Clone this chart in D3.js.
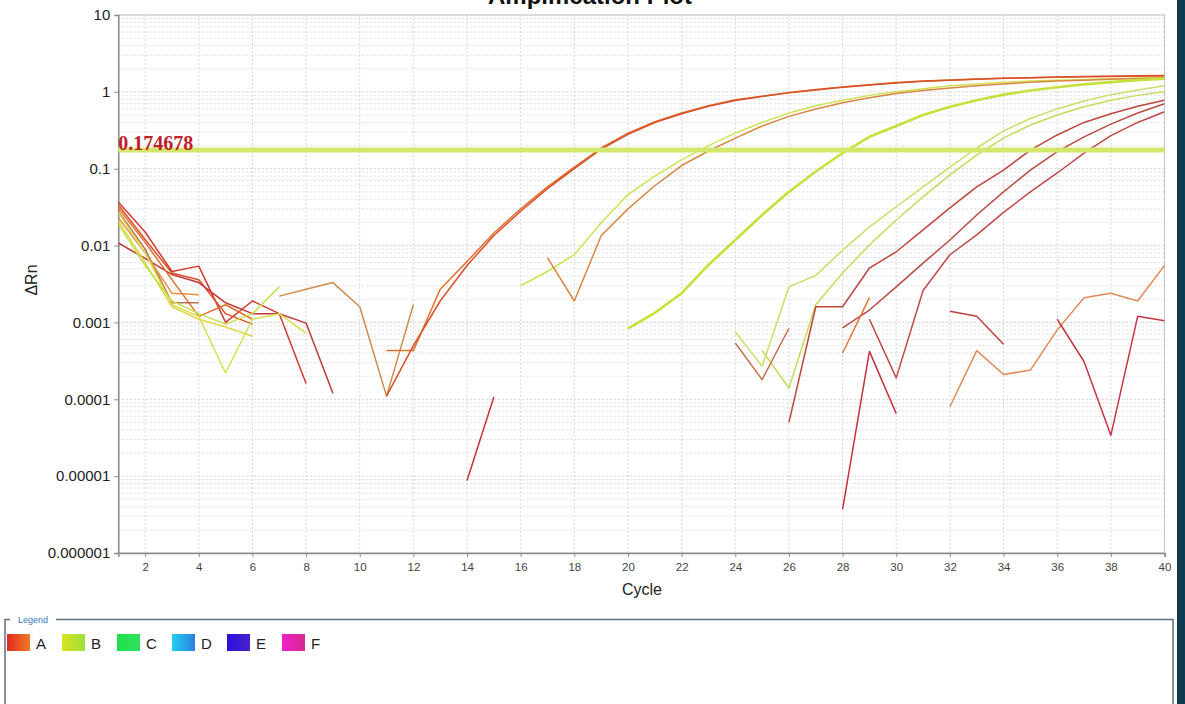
<!DOCTYPE html>
<html><head><meta charset="utf-8">
<script src="https://cdn.jsdelivr.net/npm/d3@7"></script>
<style>
html,body{margin:0;padding:0;background:#fff;overflow:hidden;}
svg{display:block;font-family:"Liberation Sans",Arial,sans-serif;}
</style></head><body>
<svg id="chart" width="1185" height="704"></svg>
<script>
// ---------- data ----------
const xTickValues = d3.range(2, 41, 2);
const yTickValues = [1e-6, 1e-5, 1e-4, 1e-3, 1e-2, 1e-1, 1, 10];
const yTickLabels = ["0.000001", "0.00001", "0.0001", "0.001", "0.01", "0.1", "1", "10"];
const threshold = 0.174678;
const thresholdLabel = "0.174678";
const legendGroups = ["A", "B", "C", "D", "E", "F"];

// one entry per well trace: detector group, first cycle, ΔRn per cycle
const traceGroup = ["A","A","A","A","A","A","B","B","B","A",
                    "A","A","B","A","B","B","B","A","A","A",
                    "A","A","A","A","A","A","A"];
const traceStart = [1,1,1,1,1,1,1,1,1,7,
                    11,11,16,17,20,24,25,26,28,29,
                    14,24,28,28,32,32,36];
const traceValues = [
  [0.037,0.015,0.0046,0.0054,0.0010,0.0019,0.0013,0.00016],
  [0.034,0.012,0.0044,0.0036,0.0013,0.00095],
  [0.0108,0.0068,0.0042,0.0033,0.0018,0.0013,0.0013,0.00098,0.00012],
  [0.031,0.011,0.0036,0.0012,0.0017,0.0011],
  [0.028,0.009,0.0018,0.0018],
  [0.023,0.008,0.0024,0.0023],
  [0.027,0.008,0.0017,0.0012,0.00022,0.0011,0.0013,0.00072],
  [0.021,0.006,0.0016,0.0011,0.00087,0.00066],
  [0.019,0.0055,0.0019,0.0013,0.00095,0.0013,0.0029],
  [0.0022,0.0027,0.0033,0.0016,0.00011,0.0017],
  [0.00043,0.00043,0.0027,0.0062,0.0146,0.030,0.058,0.105,0.186,0.29,0.41,0.53,0.66,0.79,0.88,0.98,1.07,1.16,1.24,1.32,1.38,1.43,1.47,1.5,1.53,1.55,1.57,1.58,1.6,1.61],
  [0.00011,0.0005,0.0019,0.0055,0.0135,0.028,0.055,0.1,0.18,0.28,0.4,0.52,0.65,0.77,0.87,0.97,1.06,1.15,1.23,1.3,1.37,1.42,1.46,1.5,1.53,1.56,1.58,1.6,1.62,1.63],
  [0.0030,0.0046,0.0076,0.0198,0.046,0.08,0.13,0.2,0.29,0.4,0.53,0.66,0.78,0.9,1.0,1.1,1.2,1.27,1.33,1.38,1.42,1.45,1.48,1.5,1.52],
  [0.0069,0.0019,0.0134,0.03,0.06,0.11,0.17,0.25,0.36,0.48,0.6,0.72,0.84,0.95,1.04,1.12,1.2,1.27,1.33,1.38,1.42,1.46,1.49,1.52],
  [0.00083,0.00133,0.0024,0.0056,0.0118,0.025,0.05,0.092,0.16,0.26,0.36,0.5,0.64,0.78,0.92,1.04,1.15,1.25,1.34,1.42,1.48],
  [0.00075,0.00027,0.0029,0.0041,0.0087,0.0175,0.032,0.058,0.105,0.186,0.31,0.45,0.6,0.76,0.92,1.06,1.2],
  [0.00043,0.00014,0.0017,0.0044,0.0102,0.0215,0.043,0.083,0.15,0.25,0.37,0.5,0.64,0.78,0.9,1.0],
  [0.00005,0.0016,0.0016,0.0051,0.0083,0.016,0.031,0.058,0.096,0.175,0.275,0.4,0.52,0.65,0.78],
  [0.00085,0.00145,0.0029,0.0059,0.0118,0.025,0.05,0.096,0.167,0.26,0.38,0.53,0.7],
  [0.0011,0.00019,0.0026,0.0076,0.0138,0.027,0.05,0.088,0.16,0.27,0.4,0.55],
  [0.0000088,0.000107],
  [0.00054,0.00018,0.00084],
  [0.0004,0.0021],
  [0.0000037,0.00042,0.000065],
  [0.0014,0.0012,0.00052],
  [0.00008,0.00043,0.00021,0.00024,0.0008,0.0021,0.0024,0.0019,0.0055],
  [0.0011,0.00031,0.000034,0.0012,0.00105]
];

// ---------- styling ----------
const traceTone = ["#d23a2e","#dc5228","#c03838","#e2702e","#b8704a","#e89040","#d8e050","#e0d848","#c4e04c","#d08a50",
                   "#e0702a","#d8502a","#cfe352","#d98642","#c6e03c","#c8de66","#c2dc5e","#c0443e","#b84a44","#c04848",
                   "#c83040","#c07050","#e07838","#c83040","#c04040","#e08a58","#c83444"];
const traceWidth = i => (i === 14 ? 2.6 : 1.5);
const legendStops = {
  A: ["#e02a1e", "#f07a2a"], B: ["#d8e41c", "#9ee040"], C: ["#1ee04a", "#30e060"],
  D: ["#20d0f0", "#2a80e0"], E: ["#2a10e0", "#4a20c8"], F: ["#f020c8", "#d82890"]
};

const svg = d3.select("#chart");
const x = d3.scaleLinear().domain([1, 40]).range([118.3, 1164.5]);
const y = d3.scaleLog().domain([1e-6, 10]).range([553, 15]);
const plotLeft = x.range()[0], plotRight = x.range()[1];
const plotTop = y.range()[1], plotBottom = y.range()[0];

// title (sits partly above the visible area)
svg.append("text").attr("x", 590).attr("y", 4).attr("text-anchor", "middle")
  .attr("font-weight", "bold").attr("font-size", 24).attr("fill", "#111").text("Amplification Plot");

// grid
const grid = svg.append("g");
grid.selectAll("line.h").data(y.ticks()).join("line")
  .attr("x1", plotLeft).attr("x2", plotRight).attr("y1", d => y(d)).attr("y2", d => y(d))
  .attr("stroke", d => (Math.abs(Math.log10(d) - Math.round(Math.log10(d))) < 1e-9 ? "#cfcfcf" : "#dedede"))
  .attr("stroke-width", 1).attr("stroke-dasharray", "2,2");
grid.selectAll("line.v").data(xTickValues).join("line")
  .attr("x1", d => x(d)).attr("x2", d => x(d)).attr("y1", plotTop).attr("y2", plotBottom)
  .attr("stroke", "#d6d6d6").attr("stroke-width", 1).attr("stroke-dasharray", "2,2");

// frame
svg.append("rect").attr("x", plotLeft).attr("y", plotTop).attr("width", plotRight - plotLeft).attr("height", plotBottom - plotTop)
  .attr("fill", "none").attr("stroke", "#c4c4c4").attr("stroke-width", 1);

// axes
const yAxis = d3.axisLeft(y).tickValues(yTickValues)
  .tickFormat(d => yTickLabels[yTickValues.indexOf(d)]).tickSize(4).tickPadding(4);
const gy = svg.append("g").attr("transform", `translate(${plotLeft},0)`).call(yAxis);
gy.select(".domain").attr("stroke", "#8c8c8c").attr("stroke-width", 1.5);
gy.selectAll(".tick line").attr("stroke", "#8c8c8c");
gy.selectAll("text").attr("font-size", 15).attr("fill", "#222").attr("font-family", "Liberation Sans, Arial, sans-serif");

const xAxis = d3.axisBottom(x).tickValues(xTickValues).tickSize(4).tickPadding(6);
const gx = svg.append("g").attr("transform", `translate(0,${plotBottom})`).call(xAxis);
gx.select(".domain").attr("stroke", "#8c8c8c").attr("stroke-width", 1.5);
gx.selectAll(".tick line").attr("stroke", "#8c8c8c");
gx.selectAll("text").attr("font-size", 11.5).attr("fill", "#444").attr("font-family", "Liberation Sans, Arial, sans-serif");

svg.append("text").attr("x", 642).attr("y", 595).attr("text-anchor", "middle")
  .attr("font-size", 16).attr("fill", "#222").text("Cycle");
svg.append("text").attr("transform", "translate(37,280) rotate(-90)").attr("text-anchor", "middle")
  .attr("font-size", 16).attr("fill", "#222").text("ΔRn");

// amplification traces
const defs = svg.append("defs");
defs.append("clipPath").attr("id", "plotClip")
  .append("rect").attr("x", plotLeft).attr("y", plotTop).attr("width", plotRight - plotLeft).attr("height", plotBottom - plotTop);
const line = d3.line().x(d => x(d.c)).y(d => y(d.v));
const traces = traceValues.map((vals, i) => vals.map((v, k) => ({ c: traceStart[i] + k, v })));
svg.append("g").attr("clip-path", "url(#plotClip)")
  .selectAll("path").data(traces).join("path")
  .attr("d", line).attr("fill", "none")
  .attr("stroke", (d, i) => traceTone[i]).attr("stroke-width", (d, i) => traceWidth(i))
  .attr("stroke-linejoin", "round");

// threshold
svg.append("line").attr("x1", plotLeft).attr("x2", plotRight).attr("y1", y(threshold)).attr("y2", y(threshold))
  .attr("stroke", "#d3e76c").attr("stroke-width", 5);
svg.append("text").attr("x", plotLeft).attr("y", y(threshold) - 0.5)
  .attr("font-family", "Liberation Serif, Times New Roman, serif").attr("font-weight", "bold")
  .attr("font-size", 20).attr("fill", "#c0202a").text(thresholdLabel);

// legend panel
legendGroups.forEach(g => {
  const lg = defs.append("linearGradient").attr("id", "lg" + g).attr("x1", "0").attr("x2", "1").attr("y1", "0").attr("y2", "0");
  lg.append("stop").attr("offset", "0").attr("stop-color", legendStops[g][0]);
  lg.append("stop").attr("offset", "1").attr("stop-color", legendStops[g][1]);
});
svg.append("path").attr("d", "M5,706 V619.5 H10 M56,619.5 H1173 V706")
  .attr("fill", "none").attr("stroke", "#5f7080").attr("stroke-width", 1.5);
svg.append("text").attr("x", 18).attr("y", 623).attr("font-size", 9).attr("fill", "#3a78b8").text("Legend");
const legendX = d3.scalePoint().domain(legendGroups).range([7, 282]);
const item = svg.append("g").selectAll("g").data(legendGroups).join("g")
  .attr("transform", d => `translate(${legendX(d)},634)`);
item.append("rect").attr("width", 23).attr("height", 17).attr("fill", d => `url(#lg${d})`);
item.append("text").attr("x", 29).attr("y", 15).attr("font-size", 15).attr("fill", "#222").text(d => d);

// side strip
svg.append("rect").attr("x", 1177).attr("y", 0).attr("width", 8).attr("height", 704).attr("fill", "#113b51");
</script>
</body></html>
